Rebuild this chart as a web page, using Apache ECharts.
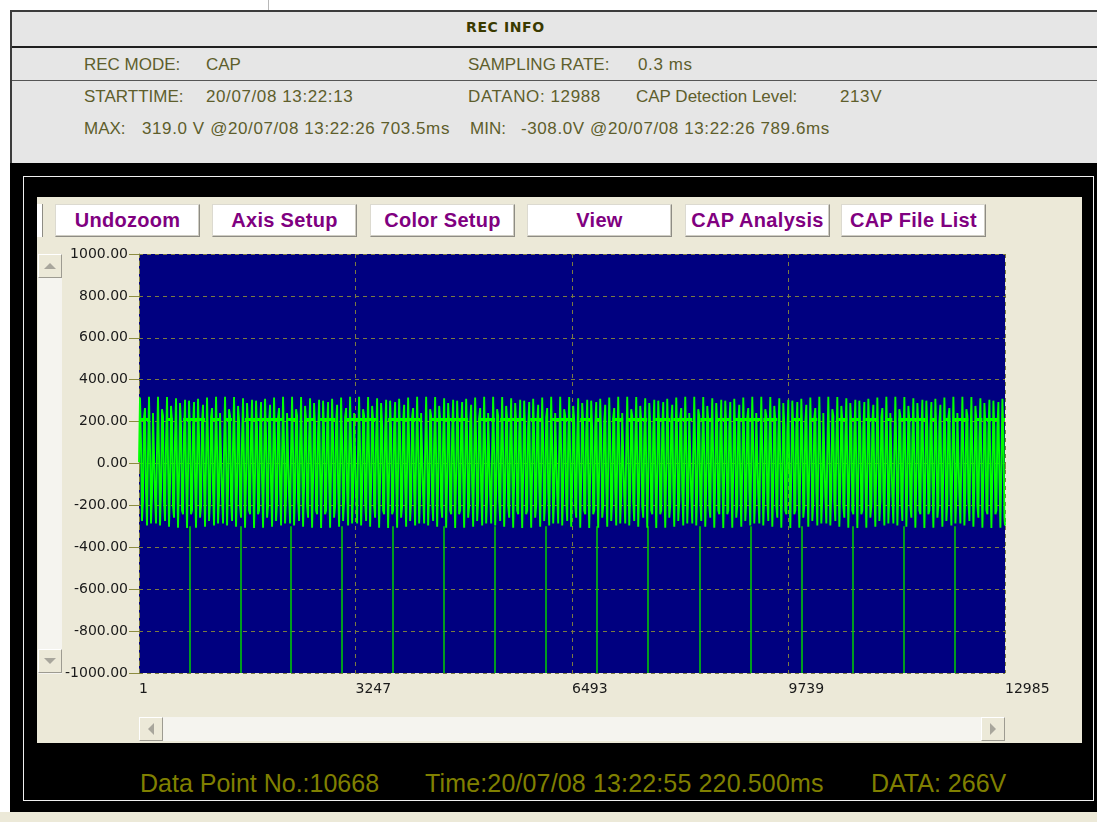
<!DOCTYPE html>
<html>
<head>
<meta charset="UTF-8">
<title>REC INFO</title>
<script src="https://cdn.jsdelivr.net/npm/echarts@6/dist/echarts.min.js"></script>
<style>
  body{margin:0;width:1097px;height:822px;background:#fff;position:relative;overflow:hidden;font-family:"Liberation Sans",Arial,sans-serif;}
  .box{position:absolute;box-sizing:border-box;}
  .t{position:absolute;white-space:nowrap;font-size:17px;line-height:20px;color:#5e5e2c;}
  .n{letter-spacing:0.6px;}
  .btn{position:absolute;top:204px;height:33px;width:145px;box-sizing:border-box;background:#fff;
       border:1px solid;border-color:#dcdad0 #8e8c84 #8e8c84 #dcdad0;box-shadow:inset -1px -1px 0 #cfcdc3;
       font-weight:bold;font-size:20px;line-height:30px;text-align:center;color:#800080;letter-spacing:0.3px;}
  .sbtn{position:absolute;width:24px;height:24px;box-sizing:border-box;background:#ece9d8;
       border:1px solid;border-color:#fff #9d9b91 #9d9b91 #fff;}
  .tri{position:absolute;width:0;height:0;border:6px solid transparent;}
  .st{position:absolute;white-space:nowrap;font-size:25px;line-height:30px;color:#808000;}
</style>
</head>
<body>
<!-- top info panel -->
<div class="box" style="left:268px;top:0;width:1px;height:10px;background:#b8b8b8"></div>
<div class="box" style="left:10px;top:10px;width:1087px;height:154px;background:#e6e6e6;border-left:2px solid #3c3c3c;border-top:2px solid #3c3c3c"></div>
<div class="box" style="left:12px;top:46px;width:1085px;height:2px;background:#202020"></div>
<div class="box" style="left:12px;top:80px;width:1085px;height:1px;background:#555"></div>
<div class="t" style="left:466px;top:17px;font-family:'DejaVu Sans';font-weight:bold;font-size:14px;letter-spacing:0.6px;color:#3a3a00">REC INFO</div>

<div class="t" style="left:84px;top:55px">REC MODE:</div>
<div class="t" style="left:206px;top:55px">CAP</div>
<div class="t" style="left:468px;top:55px">SAMPLING RATE:</div>
<div class="t n" style="left:638px;top:55px">0.3 ms</div>

<div class="t" style="left:84px;top:87px">STARTTIME:</div>
<div class="t n" style="left:206px;top:87px">20/07/08 13:22:13</div>
<div class="t n" style="left:468px;top:87px">DATANO: 12988</div>
<div class="t" style="left:636px;top:87px">CAP Detection Level:</div>
<div class="t n" style="left:840px;top:87px">213V</div>

<div class="t" style="left:84px;top:119px">MAX:</div>
<div class="t n" style="left:142px;top:119px">319.0 V @20/07/08 13:22:26 703.5ms</div>
<div class="t" style="left:470px;top:119px">MIN:</div>
<div class="t n" style="left:521px;top:119px">-308.0V @20/07/08 13:22:26 789.6ms</div>

<!-- scope frame -->
<div class="box" style="left:10px;top:163px;width:1087px;height:649px;background:#000"></div>
<div class="box" style="left:23px;top:176px;width:1071px;height:625px;border:1px solid #f0f0f0"></div>
<div class="box" style="left:0;top:812px;width:1097px;height:10px;background:#ece9d8"></div>
<div class="box" style="left:37px;top:197px;width:1045px;height:546px;background:#ece9d8"></div>

<div class="box" style="left:37px;top:204px;width:6px;height:33px;background:#fff;border-right:1px solid #8e8c84"></div>
<div class="btn" style="left:55px">Undozoom</div>
<div class="btn" style="left:212px">Axis Setup</div>
<div class="btn" style="left:370px">Color Setup</div>
<div class="btn" style="left:527px">View</div>
<div class="btn" style="left:685px">CAP Analysis</div>
<div class="btn" style="left:841px">CAP File List</div>

<!-- scroll bars -->
<div class="box" style="left:38px;top:254px;width:24px;height:420px;background:#f5f4ef"></div>
<div class="sbtn" style="left:38px;top:254px"><div class="tri" style="left:5px;top:2px;border-bottom-color:#a8a69c"></div></div>
<div class="sbtn" style="left:38px;top:649px"><div class="tri" style="left:5px;top:8px;border-top-color:#a8a69c"></div></div>
<div class="box" style="left:139px;top:717px;width:866px;height:24px;background:#f5f4ef"></div>
<div class="sbtn" style="left:139px;top:717px"><div class="tri" style="left:2px;top:5px;border-right-color:#a8a69c"></div></div>
<div class="sbtn" style="left:981px;top:717px"><div class="tri" style="left:8px;top:5px;border-left-color:#a8a69c"></div></div>

<div id="plot" class="box" style="left:62px;top:244px;width:1000px;height:462px"></div>

<div class="st" style="left:140px;top:768px">Data Point No.:10668</div>
<div class="st" style="left:425px;top:768px;letter-spacing:0.15px">Time:20/07/08 13:22:55 220.500ms</div>
<div class="st" style="left:871px;top:768px">DATA: 266V</div>

<script>
// one mains cycle as sampled every 0.3 ms (V)
var cycleV = [6, 35, 64, 93, 121, 148, 173, 198, 220, 241, 259, 275, 289, 300, 309, 315, 318, 319,
  317, 311, 304, 293, 280, 265, 247, 227, 205, 182, 157, 130, 102, 74, 45, 15, -14, -44, -72, -101,
  -128, -154, -179, -202, -223, -242, -259, -274, -286, -296, -302, -307, -308, -307, -302, -296,
  -286, -274, -259, -242, -223, -202, -179, -154, -128, -101, -72, -44, -14];
var recLen = 12985;
var drawStep = 15;          // the scope draws one sample per screen column

// CAP detection level and the captured stretches on it (data point no.)
var capLevel = 213;
var capSeg = [[1,166],[421,511],[661,991],[1111,1216],[1291,1396],[1591,2146],[2236,2386],[2491,2641],
  [2716,2941],[3091,3586],[3736,4216],[4366,4936],[5086,5341],[5416,5791],[5866,6046],[6166,6496],
  [6616,6766],[6841,6916],[7096,7261],[7321,7621],[7741,7966],[8011,8296],[8416,8611],[8671,8866],
  [8911,9316],[9361,9571],[9811,9916],[10066,10171],[10486,10621],[10666,10816],[10891,11071],
  [11191,11296],[11386,11791],[11866,11941],[12091,12166],[12211,12436],[12541,12646],[12691,12871],
  [12946,12985]];

// spikes down to the bottom of the scale
var spikeAt = [766, 1531, 2281, 3046, 3811, 4576, 5341, 6106, 6871, 7636, 8401, 9166, 9931, 10696, 11461, 12226];
var spikeTop = -300;
var spikeLow = -1000;

var xTicks = [1, 3247, 6493, 9739, 12985];
var yMin = -1000, yMax = 1000, yStep = 200;

var wavePts = [];
for (var n = 1; n <= recLen; n += drawStep) {
  wavePts.push([n, cycleV[(n - 1) % cycleV.length]]);
}
wavePts.push([recLen, cycleV[(recLen - 1) % cycleV.length]]);

var gridColor = '#7c7c40';
var lblStyle = {color:'#1a1a1a', fontFamily:'DejaVu Sans', fontSize:14};

var chart = echarts.init(document.getElementById('plot'));
var option = {
  animation:false,
  grid:{left:77, top:10, width:866, height:419, show:true, backgroundColor:'#000080', borderWidth:0},
  xAxis:{
    type:'value', min:xTicks[0], max:xTicks[xTicks.length - 1], interval:xTicks[1] - xTicks[0],
    axisLine:{lineStyle:{color:gridColor, type:[4,4]}},
    axisTick:{length:6, lineStyle:{color:'#8c8c40'}},
    axisLabel:Object.assign({align:'left', margin:9, formatter:function(v){ return String(v); }}, lblStyle),
    splitLine:{show:true, lineStyle:{color:gridColor, type:[4,4]}}
  },
  yAxis:{
    type:'value', min:yMin, max:yMax, interval:yStep,
    axisLine:{show:true, lineStyle:{color:gridColor, type:[4,4]}},
    axisTick:{show:true, length:10, lineStyle:{color:'#8c8c40'}},
    axisLabel:Object.assign({margin:11, formatter:function(v){ return v.toFixed(2); }}, lblStyle),
    splitLine:{show:true, lineStyle:{color:gridColor, type:[4,4]}}
  },
  series:[
    {
      type:'line', data:wavePts, showSymbol:false, silent:true,
      lineStyle:{color:'#00ff00', width:1.9}
    },
    {
      type:'lines', coordinateSystem:'cartesian2d', silent:true,
      data:spikeAt.map(function(i){ return {coords:[[i, spikeTop], [i, spikeLow]]}; }),
      lineStyle:{color:'#00d000', width:1.5, opacity:1}
    },
    {
      type:'lines', coordinateSystem:'cartesian2d', silent:true,
      data:capSeg.map(function(s){ return {coords:[[s[0], capLevel], [s[1], capLevel]]}; }),
      lineStyle:{color:'#00ff00', width:3, opacity:1}
    }
  ]
};
chart.setOption(option);
</script>
</body>
</html>
